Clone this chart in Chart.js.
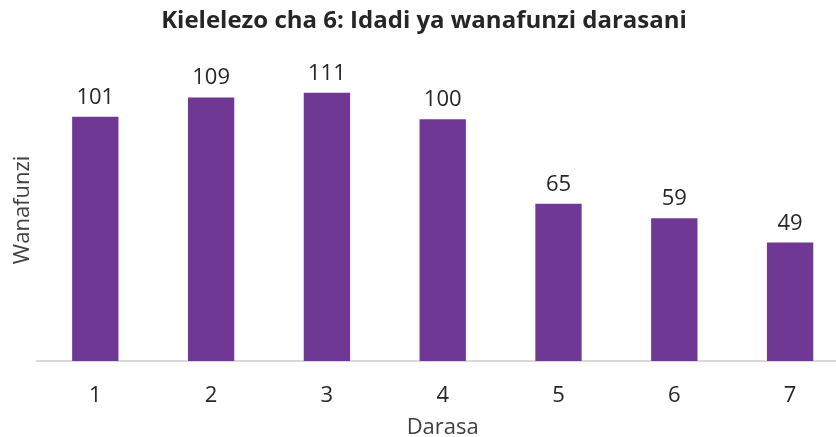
<!DOCTYPE html>
<html lang="sw">
<head>
  <meta charset="UTF-8">
  <title>Kielelezo cha 6</title>
  <script src="https://cdn.jsdelivr.net/npm/chart.js"></script>
  <style>
    body {
      margin: 0;
      background: #ffffff;
      overflow: hidden;
    }
    .wrap {
      width: 850px;
      height: 437px;
    }
  </style>
</head>
<body>
<div class="wrap">
  <canvas id="chartCanvas" width="850" height="437"></canvas>
</div>

<script>
  // Datos del gráfico
  const darasa = ['1', '2', '3', '4', '5', '6', '7'];
  const wanafunzi = [101, 109, 111, 100, 65, 59, 49];
  const tituloGrafico = 'Kielelezo cha 6: Idadi ya wanafunzi darasani';
  const tituloX = 'Darasa';
  const tituloY = 'Wanafunzi';

  const fuente = '"Open Sans", sans-serif';

  // Etiquetas de valor encima de cada barra
  const etiquetasValor = {
    id: 'etiquetasValor',
    afterDatasetsDraw(chart) {
      const ctx = chart.ctx;
      const meta = chart.getDatasetMeta(0);
      ctx.save();
      ctx.font = '22px ' + fuente;
      ctx.fillStyle = '#262626';
      ctx.textAlign = 'center';
      ctx.textBaseline = 'alphabetic';
      meta.data.forEach((bar, i) => {
        ctx.fillText(chart.data.datasets[0].data[i], bar.x, bar.y - 13);
      });
      ctx.restore();
    }
  };

  new Chart(document.getElementById('chartCanvas'), {
    type: 'bar',
    data: {
      labels: darasa,
      datasets: [{
        label: tituloY,
        data: wanafunzi,
        backgroundColor: '#6E3894',
        barPercentage: 0.4,
        categoryPercentage: 1.0
      }]
    },
    options: {
      responsive: false,
      animation: false,
      layout: {
        padding: { left: 0, right: 2, top: 0, bottom: 0 }
      },
      plugins: {
        legend: { display: false },
        tooltip: { enabled: false },
        title: {
          display: true,
          text: tituloGrafico,
          color: '#262626',
          font: { family: fuente, size: 24, weight: 'bold', lineHeight: 1.2 },
          padding: { top: 7, bottom: 23 }
        }
      },
      scales: {
        x: {
          grid: { display: false, drawTicks: false },
          border: { display: true, color: '#d9d9d9', width: 2 },
          ticks: {
            color: '#262626',
            font: { family: fuente, size: 22, lineHeight: 1.2 },
            padding: 22
          },
          title: {
            display: true,
            text: tituloX,
            color: '#404040',
            font: { family: fuente, size: 22, lineHeight: 0.8 },
            padding: { top: 0, bottom: 0 }
          },
          afterFit: (escala) => { escala.height = 76; }
        },
        y: {
          min: 0,
          max: 125,
          grid: { display: false, drawTicks: false },
          border: { display: false },
          ticks: { display: false },
          title: {
            display: true,
            text: tituloY,
            color: '#404040',
            font: { family: fuente, size: 22, lineHeight: 1.2 },
            padding: { top: 10, bottom: 1 }
          }
        }
      }
    },
    plugins: [etiquetasValor]
  });
</script>
</body>
</html>
